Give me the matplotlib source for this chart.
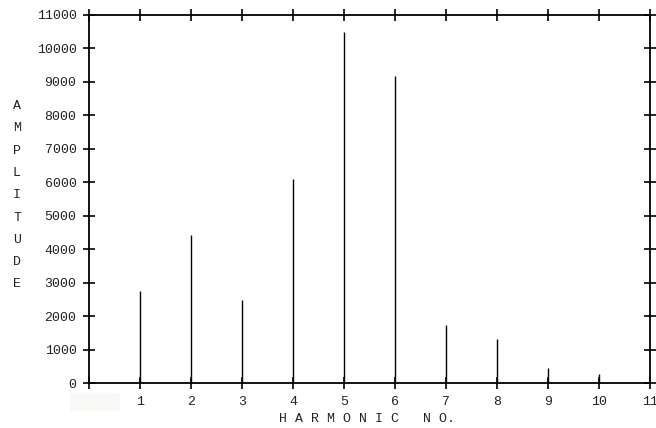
import matplotlib.pyplot as plt
from matplotlib.patches import Rectangle

harmonic = [1, 2, 3, 4, 5, 6, 7, 8, 9, 10]
amplitude = [2750, 4420, 2480, 6100, 10490, 9180, 1740, 1320, 450, 270]
ylabel_text = "AMPLITUDE"

plt.rcParams['font.family'] = ['Liberation Mono', 'DejaVu Sans Mono']
txt_color = '#222222'

fig = plt.figure(figsize=(6.56, 4.28), dpi=100)
ax = fig.add_axes([0.1357, 0.1051, 0.8552, 0.8599])

ax.vlines(harmonic, 0, amplitude, color='black', linewidth=1.0)

ax.set_xlim(0, 11)
ax.set_ylim(0, 11000)
ax.set_xticks(range(0, 12))
ax.set_xticklabels([''] + [str(i) for i in range(1, 12)])
ax.set_yticks(range(0, 11001, 1000))
ax.tick_params(direction='inout', length=8, width=1.2, labelsize=9.5,
               top=True, right=True, pad=5, color='black', labelcolor=txt_color)
for s in ax.spines.values():
    s.set_linewidth(1.3)

# faint patch under the origin, as in the source image
fig.patches.append(Rectangle((70 / 656, 1 - 410 / 428), 49 / 656, 17 / 428,
                             transform=fig.transFigure, color='#faf8f5', zorder=0))

# stacked vertical y label
for i, ch in enumerate(ylabel_text):
    fig.text(17 / 656, 1 - (106 + i * 22.3) / 428, ch, ha='center', va='center',
             fontsize=9.5, color=txt_color)

fig.text(367 / 656, 1 - 419 / 428, "H A R M O N I C   N O.", ha='center',
         va='center', fontsize=9.5, color=txt_color)

fig.savefig('out.png', dpi=100)
